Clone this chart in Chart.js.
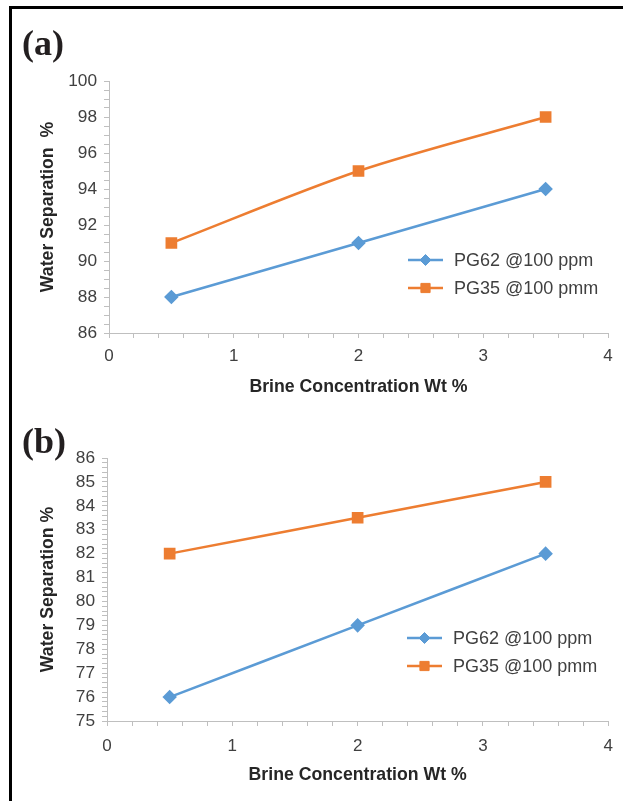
<!DOCTYPE html>
<html>
<head>
<meta charset="utf-8">
<script src="https://cdn.jsdelivr.net/npm/chart.js@4.4.1/dist/chart.umd.min.js"></script>
<style>
  html, body { margin: 0; padding: 0; background: #fff; }
  #wrap { position: relative; width: 623px; height: 801px; overflow: hidden; background: #fff; }
  #frame { position: absolute; left: 9px; top: 6px; width: 700px; height: 900px;
           border-top: 3px solid #000; border-left: 3px solid #000; }
  canvas { position: absolute; left: 0; }
  .panel { position: absolute; left: 22px; font-family: "Liberation Serif", "Times New Roman", serif;
           font-weight: bold; font-size: 36px; color: #231f20; line-height: 1; }
</style>
</head>
<body>
<div id="wrap">
  <div id="frame"></div>
  <canvas id="cA" width="623" height="400" style="top:0px"></canvas>
  <canvas id="cB" width="623" height="401" style="top:400px"></canvas>
  <div class="panel" style="top:25px">(a)</div>
  <div class="panel" style="top:423px">(b)</div>
</div>
<script>
// ---- data ----
const brineConc = [0.5, 2, 3.5];
const seriesLabels = ["PG62 @100 ppm", "PG35 @100 pmm"];
const aPG62 = [88, 91, 94];
const aPG35 = [91, 95, 98];
const bPG62 = [76, 79, 82];
const bPG35 = [82, 83.5, 85];
const xTickLabels = ["0", "1", "2", "3", "4"];
const aYTickLabels = ["86", "88", "90", "92", "94", "96", "98", "100"];
const bYTickLabels = ["75", "76", "77", "78", "79", "80", "81", "82", "83", "84", "85", "86"];
const xTitle = "Brine Concentration Wt %";
const aYTitle = "Water Separation  %";
const bYTitle = "Water Separation %";

const BLUE = "#5B9BD5";
const ORANGE = "#ED7D31";
const AXIS = "#BFBFBF";
const TXT = "#404040";
const TITLE = "#262626";

Chart.defaults.font.family = "Arial, 'Liberation Sans', sans-serif";
Chart.defaults.color = TXT;

const legendPlugin = {
  id: "customLegend",
  afterDatasetsDraw(chart, args, opts) {
    const ctx = chart.ctx;
    ctx.save();
    chart.data.datasets.forEach((ds, i) => {
      const y = opts.y + i * opts.gap;
      const x0 = opts.x, x1 = opts.x + 35;
      ctx.strokeStyle = ds.borderColor;
      ctx.lineWidth = ds.borderWidth;
      ctx.beginPath(); ctx.moveTo(x0, y); ctx.lineTo(x1, y); ctx.stroke();
      ctx.fillStyle = ds.pointBackgroundColor;
      ctx.strokeStyle = ds.pointBorderColor;
      ctx.lineWidth = 1;
      ctx.beginPath();
      Chart.helpers.drawPoint(ctx, {pointStyle: ds.pointStyle, radius: ds.pointRadius, borderWidth: 1}, (x0 + x1) / 2, y);
      ctx.fillStyle = TXT;
      ctx.font = "18px Arial, 'Liberation Sans', sans-serif";
      ctx.textBaseline = "middle";
      ctx.textAlign = "left";
      ctx.fillText(ds.label, opts.x + 46, y + 1);
    });
    ctx.restore();
  }
};

function ds(label, xs, ys, color, style, r) {
  return {
    label: label,
    data: xs.map((x, i) => ({x: x, y: ys[i]})),
    borderColor: color, backgroundColor: color,
    pointBackgroundColor: color, pointBorderColor: color,
    borderWidth: 2.5, pointStyle: style, pointRadius: r, pointHoverRadius: r,
    tension: 0.3, clip: false
  };
}

function isLabel(v, labels) {
  return labels.some(l => Math.abs(parseFloat(l) - v) < 1e-6);
}

function makeChart(id, cfg) {
  new Chart(document.getElementById(id), {
    type: "line",
    data: {
      datasets: [
        ds(seriesLabels[0], brineConc, cfg.s1, BLUE, "rectRot", 5.5),
        ds(seriesLabels[1], brineConc, cfg.s2, ORANGE, "rect", 6.5)
      ]
    },
    options: {
      responsive: false, animation: false, devicePixelRatio: 1,
      layout: { padding: { left: cfg.padL, right: 623 - cfg.right, top: cfg.top, bottom: cfg.padB } },
      plugins: { legend: { display: false }, tooltip: { enabled: false },
                 customLegend: { x: cfg.legX, y: cfg.legY, gap: 28 } },
      scales: {
        x: {
          type: "linear", min: 0, max: 4,
          afterFit(s) { s.height = cfg.xH; },
          grid: { display: true, drawOnChartArea: false, drawTicks: true, tickLength: 5, color: AXIS },
          border: { display: true, color: AXIS, width: 1 },
          ticks: { stepSize: 0.2, autoSkip: false, maxRotation: 0, padding: cfg.xPad,
                   font: { size: 17 }, color: TXT,
                   callback: (v) => isLabel(v, xTickLabels) ? String(Math.round(v)) : "" },
          title: { display: true, text: xTitle, color: TITLE, font: { size: 17.7, weight: "bold" },
                   padding: { top: 0, bottom: 0 } }
        },
        y: {
          type: "linear", min: cfg.ymin, max: cfg.ymax,
          afterFit(s) { s.width = cfg.left - cfg.padL; },
          grid: { display: true, drawOnChartArea: false, drawTicks: true, tickLength: 5, color: AXIS },
          border: { display: true, color: AXIS, width: 1 },
          ticks: { stepSize: cfg.ystep, autoSkip: false, padding: 7, maxTicksLimit: 1000,
                   font: { size: 17.3 }, color: TXT,
                   callback: (v) => isLabel(v, cfg.yLabels) ? String(Math.round(v)) : "" },
          title: { display: true, text: cfg.yTitle, color: TITLE, font: { size: 17.7, weight: "bold" },
                   padding: { top: 7, bottom: 0 } }
        }
      }
    },
    plugins: [legendPlugin]
  });
}

makeChart("cA", { s1: aPG62, s2: aPG35, ymin: 86, ymax: 100, ystep: 0.5, yLabels: aYTickLabels,
  yTitle: aYTitle, left: 109, right: 608, top: 81, padL: 30, xH: 65, padB: 2, xPad: 8,
  legX: 408, legY: 260 });
makeChart("cB", { s1: bPG62, s2: bPG35, ymin: 75, ymax: 86, ystep: 0.2, yLabels: bYTickLabels,
  yTitle: bYTitle, left: 107, right: 610, top: 58, padL: 30, xH: 65, padB: 15, xPad: 10,
  legX: 407, legY: 238 });
</script>
</body>
</html>
